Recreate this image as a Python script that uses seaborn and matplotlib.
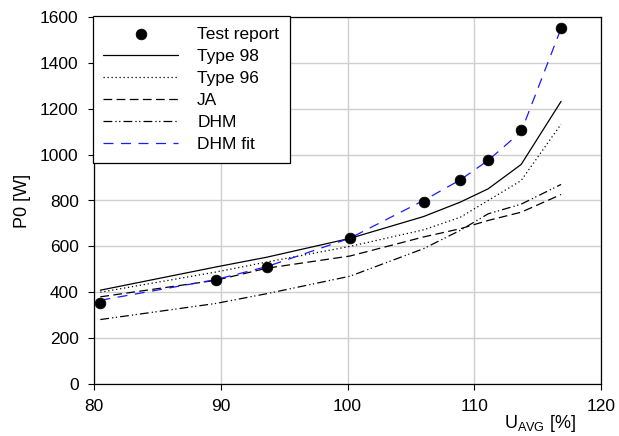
import matplotlib
matplotlib.use("Agg")
import matplotlib.pyplot as plt
import seaborn as sns
import pandas as pd

u_avg = [80.5, 89.6, 93.65, 100.2, 106.0, 108.9, 111.1, 113.7, 116.85]
test_report = [351, 453, 510, 635, 793, 890, 977, 1107, 1553]
type98 = [409, 510, 553, 635, 730, 793, 851, 957, 1232]
type96 = [400, 488, 532, 600, 672, 727, 800, 887, 1133]
ja = [380, 452, 505, 558, 641, 677, 713, 749, 826]
dhm = [281, 351, 394, 470, 590, 670, 742, 784, 870]
dhm_fit = [365, 455, 512, 636, 800, 890, 975, 1100, 1550]

df = pd.DataFrame({"u": u_avg, "test": test_report, "t98": type98, "t96": type96,
                   "ja": ja, "dhm": dhm, "fit": dhm_fit})

sns.set_style("white")
plt.rcParams['font.family'] = ['Liberation Sans', 'DejaVu Sans']
plt.rcParams['mathtext.fontset'] = 'custom'
plt.rcParams['mathtext.rm'] = 'Liberation Sans'
plt.rcParams['mathtext.it'] = 'Liberation Sans'
plt.rcParams['text.color'] = 'black'
plt.rcParams['axes.labelcolor'] = 'black'

fig = plt.figure(figsize=(6.19, 4.36), dpi=100)
ax = fig.add_axes([94/619, 1-384/436, (601-94)/619, (384-17)/436])

lw = 0.9
sns.scatterplot(data=df, x="u", y="test", ax=ax, color="black", s=60, edgecolor="black",
                linewidth=0.5, label="Test report", zorder=5)
sns.lineplot(data=df, x="u", y="t98", ax=ax, color="black", lw=lw, label="Type 98")
sns.lineplot(data=df, x="u", y="t96", ax=ax, color="black", lw=lw, label="Type 96",
             linestyle=(0, (1, 2.2)))
sns.lineplot(data=df, x="u", y="ja", ax=ax, color="black", lw=lw, label="JA",
             linestyle=(0, (7, 3.5)))
sns.lineplot(data=df, x="u", y="dhm", ax=ax, color="black", lw=lw, label="DHM",
             linestyle=(0, (7, 2.5, 1, 2, 1, 2.5)))
sns.lineplot(data=df, x="u", y="fit", ax=ax, color="#1a1aff", lw=lw, label="DHM fit",
             linestyle=(0, (8, 6)))

ax.set_xlim(80, 120)
ax.set_ylim(0, 1600)
ax.set_xticks([80, 90, 100, 110, 120])
ax.set_yticks(range(0, 1601, 200))
ax.grid(True, color="#cfcfcf", lw=1.0)
ax.set_axisbelow(True)
for s in ax.spines.values():
    s.set_color("black")
    s.set_linewidth(0.9)
ax.tick_params(axis="both", direction="out", length=4, width=0.8, color="black",
               labelsize=12.5, labelcolor="black", bottom=True, left=True, pad=7)

ax.set_ylabel("P0 [W]", fontsize=13, labelpad=8)
ax.yaxis.set_label_coords(-0.125, 0.5)
ax.set_xlabel(r"U$_{\mathrm{AVG}}$ [%]", fontsize=13)
ax.xaxis.set_label_coords(0.88, -0.078)

leg = ax.legend(loc="upper left", bbox_to_anchor=(-0.002, 1.002), fontsize=12.5,
                frameon=True, fancybox=False, framealpha=1, edgecolor="black",
                borderpad=0.6, labelspacing=0.4, handlelength=4.3, handletextpad=1.1,
                borderaxespad=0)
leg.get_frame().set_linewidth(0.9)

fig.savefig("out.png", dpi=100)
